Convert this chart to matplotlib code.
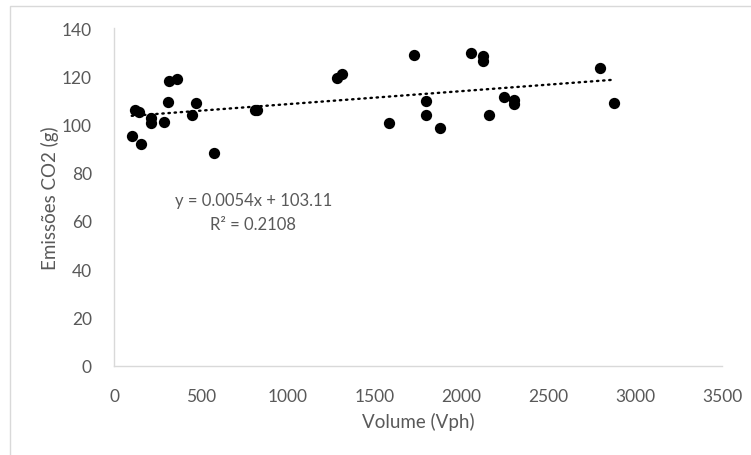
import matplotlib
matplotlib.use("Agg")
import matplotlib.pyplot as plt
import numpy as np
from matplotlib.patches import Rectangle

volume = [102, 121, 146, 154, 213, 213, 288, 313, 318, 361, 447, 470, 576, 810, 821,
          1286, 1311, 1583, 1727, 1796, 1796, 1877, 2055, 2126, 2126, 2161, 2247,
          2305, 2305, 2798, 2879]
emissoes = [95.3, 105.9, 105.2, 92.1, 102.7, 100.8, 101.3, 109.3, 118.0, 119.0, 104.1,
            108.9, 88.4, 106.0, 106.2, 119.3, 121.1, 100.5, 128.9, 109.8, 103.8, 98.6,
            129.8, 128.3, 126.6, 103.8, 111.4, 110.3, 108.7, 123.4, 108.9]
slope = 0.0054
intercept = 103.11
eq_text = "y = 0.0054x + 103.11"
r2_text = "R² = 0.2108"
xticks = [0, 500, 1000, 1500, 2000, 2500, 3000, 3500]
yticks = [0, 20, 40, 60, 80, 100, 120, 140]

plt.rcParams['font.family'] = ['Lato', 'DejaVu Sans']
gray = '#595959'

fig = plt.figure(figsize=(7.51, 4.56), dpi=100)
W, H = 751, 456
# chart area border
fig.patches.append(Rectangle((10 / W, -0.1), 2, 1 - 7 / H + 0.1, transform=fig.transFigure,
                             fill=False, edgecolor='#d9d9d9', linewidth=1.0))

ax_l, ax_r, ax_t, ax_b = 114, 722, 29.3, 366.5
ax = fig.add_axes([ax_l / W, 1 - ax_b / H, (ax_r - ax_l) / W, (ax_b - ax_t) / H])
ax.scatter(volume, emissoes, s=66, color='black', zorder=3, linewidths=0)
xs = np.array([min(volume), max(volume)])
ax.plot(xs, slope * xs + intercept, color='black', linewidth=1.7,
        linestyle=(0, (0.6, 2.0)), dash_capstyle='round', zorder=2)

ax.set_xlim(0, 3500)
ax.set_ylim(0, 140)
ax.set_xticks(xticks)
ax.set_yticks(yticks)
ax.tick_params(length=0, labelsize=12.5, labelcolor=gray)
ax.tick_params(axis='x', pad=16)
ax.tick_params(axis='y', pad=16)
for s in ['top', 'right']:
    ax.spines[s].set_visible(False)
for s in ['left', 'bottom']:
    ax.spines[s].set_color('#d9d9d9')
    ax.spines[s].set_linewidth(1.0)

aw, ah = ax_r - ax_l, ax_b - ax_t
ax.set_xlabel("Volume (Vph)", fontsize=13.5, color=gray)
ax.set_ylabel("Emissões CO2 (g)", fontsize=13.5, color=gray)
ax.xaxis.label.set_va('center')
ax.yaxis.label.set_va('center')
ax.xaxis.set_label_coords((418 - ax_l) / aw, -(422 - ax_b) / ah)
ax.yaxis.set_label_coords((50 - ax_l) / aw, (ax_b - 198) / ah)

fig.text(254 / W, 1 - 201.5 / H, eq_text, ha='center', va='center', fontsize=12, color=gray)
fig.text(253 / W, 1 - 225 / H, r2_text, ha='center', va='center', fontsize=12, color=gray)

fig.savefig("out.png", dpi=100)
